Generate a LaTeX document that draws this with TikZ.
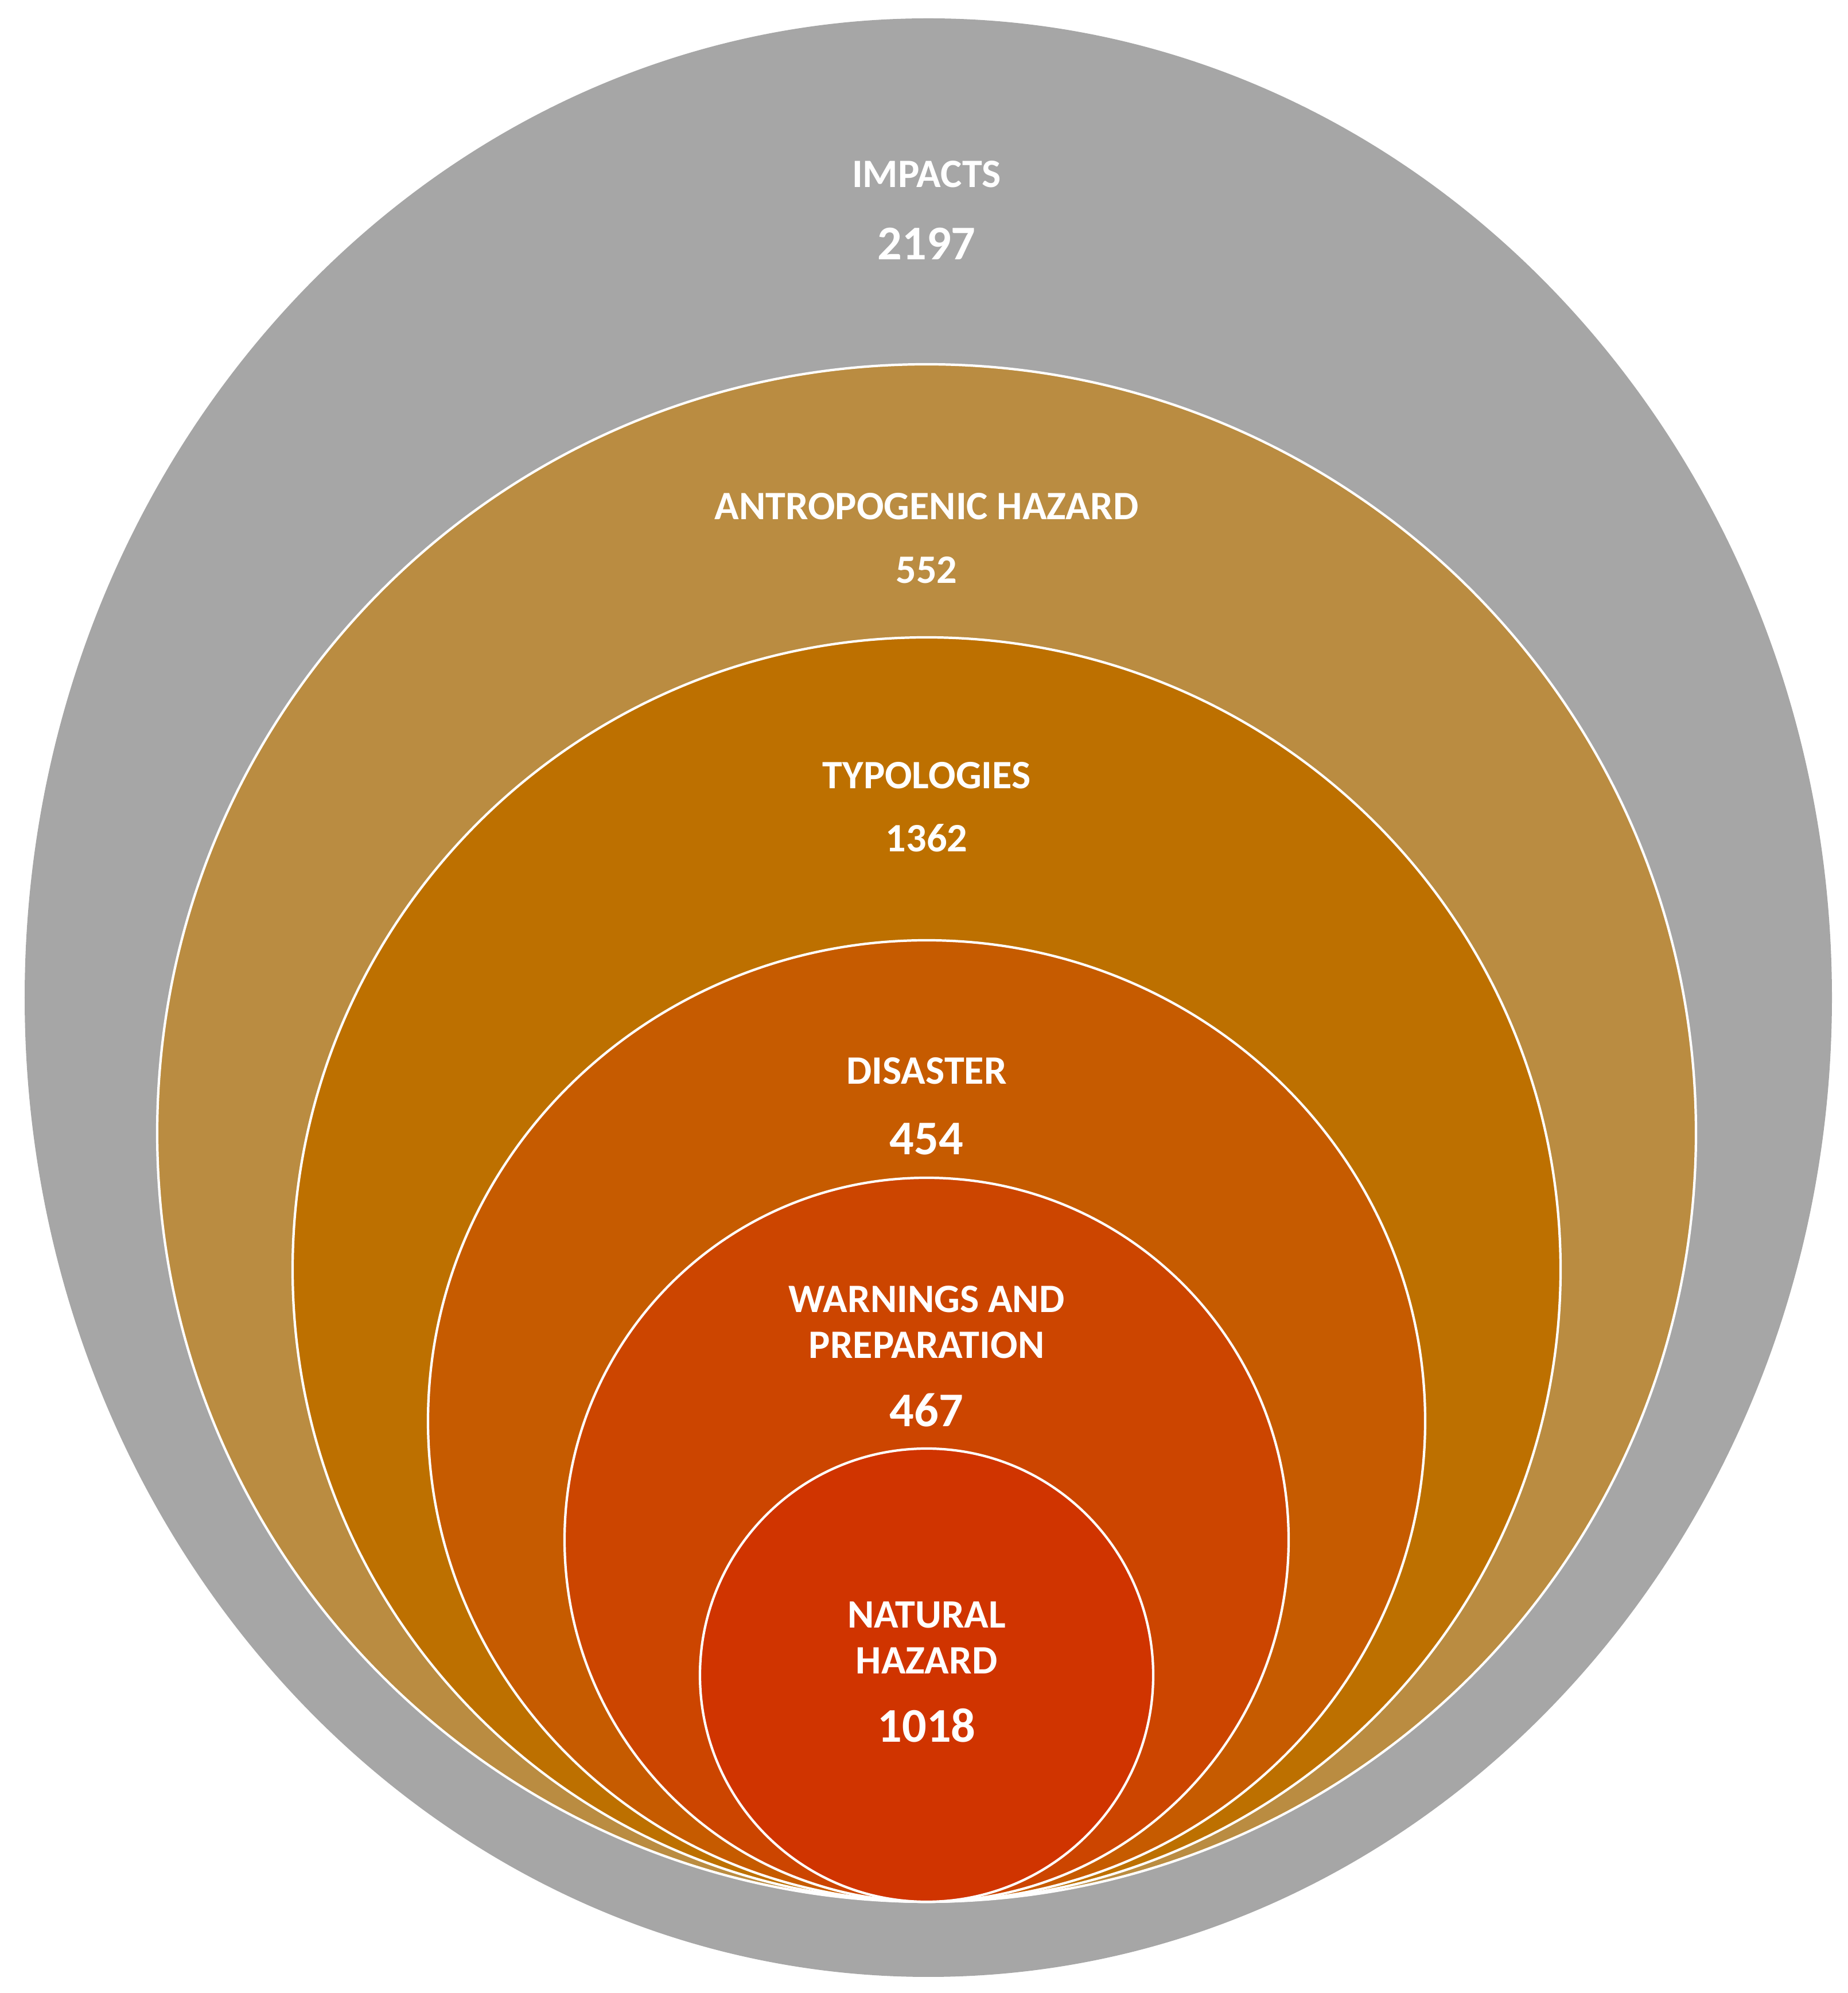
\documentclass[tikz,border=0pt]{standalone}
\usepackage{fontspec}
\setmainfont{Carlito}
\usepackage{tikz}
\usetikzlibrary{calc}

\definecolor{impactgray}{HTML}{A6A6A6}
\definecolor{antrobrown}{HTML}{BA8C41}
\definecolor{typoorange}{HTML}{BD7000}
\definecolor{disasterorange}{HTML}{C65B00}
\definecolor{warnorange}{HTML}{CC4500}
\definecolor{naturalred}{HTML}{D03400}

\tikzset{
  ring/.style={draw=white, line width=1.2pt},
  lab/.style={text=white, align=center, font=\fontsize{20}{22.8}\selectfont\bfseries},
  num/.style={text=white, font=\fontsize{20}{24}\selectfont\bfseries},
  bignum/.style={text=white, font=\fontsize{24}{28}\selectfont\bfseries}
}

\begin{document}
\begin{tikzpicture}
            % Define the common axis and the touching point at the bottom
            \def\cx{16.15}  % horizontal centre
            \def\base{1.59} % where the inner rings touch

            \useasboundingbox (0,0) rectangle (32.21,34.74);

            % Calculate the centres of the rings
            \coordinate (Cimp) at (16.18, 17.35);
            \coordinate (Cant) at (\cx, {\base + 13.40});
            \coordinate (Ctyp) at (\cx, {\base + 11.02});
            \coordinate (Cdis) at (\cx, {\base + 8.38});
            \coordinate (Cwar) at (\cx, {\base + 6.31});
            \coordinate (Cnat) at (\cx, {\base + 3.95});

            % Draw the rings, outermost first
            \fill[impactgray] (Cimp) ellipse [x radius=15.75, y radius=17.07];
            \draw[ring, fill=antrobrown] (Cant) ellipse [x radius=13.41, y radius=13.40];
            \draw[ring, fill=typoorange] (Ctyp) ellipse [x radius=11.05, y radius=11.02];
            \draw[ring, fill=disasterorange] (Cdis) ellipse [x radius=8.69, y radius=8.38];
            \draw[ring, fill=warnorange] (Cwar) ellipse [x radius=6.31, y radius=6.31];
            \draw[ring, fill=naturalred] (Cnat) ellipse [x radius=3.95, y radius=3.95];

            % Draw labels and counts
            \node[lab] (impLab) at (\cx, 31.70) {IMPACTS};
            \node[bignum] (impNum) at (\cx, 30.49) {2197};
            \node[lab] (antLab) at (\cx, 25.91) {ANTROPOGENIC HAZARD};
            \node[num] (antNum) at (\cx, 24.80) {552};
            \node[lab] (typLab) at (\cx, 21.22) {TYPOLOGIES};
            \node[num] (typNum) at (\cx, 20.13) {1362};
            \node[lab] (disLab) at (\cx, 16.07) {DISASTER};
            \node[bignum] (disNum) at (\cx, 14.89) {454};
            \node[lab] (warLab) at (\cx, 11.69) {WARNINGS AND\\PREPARATION};
            \node[bignum] (warNum) at (\cx, 10.16) {467};
            \node[lab] (natLab) at (\cx, 6.19) {NATURAL\\HAZARD};
            \node[bignum] (natNum) at (\cx, 4.66) {1018};

        \end{tikzpicture}
\end{document}
